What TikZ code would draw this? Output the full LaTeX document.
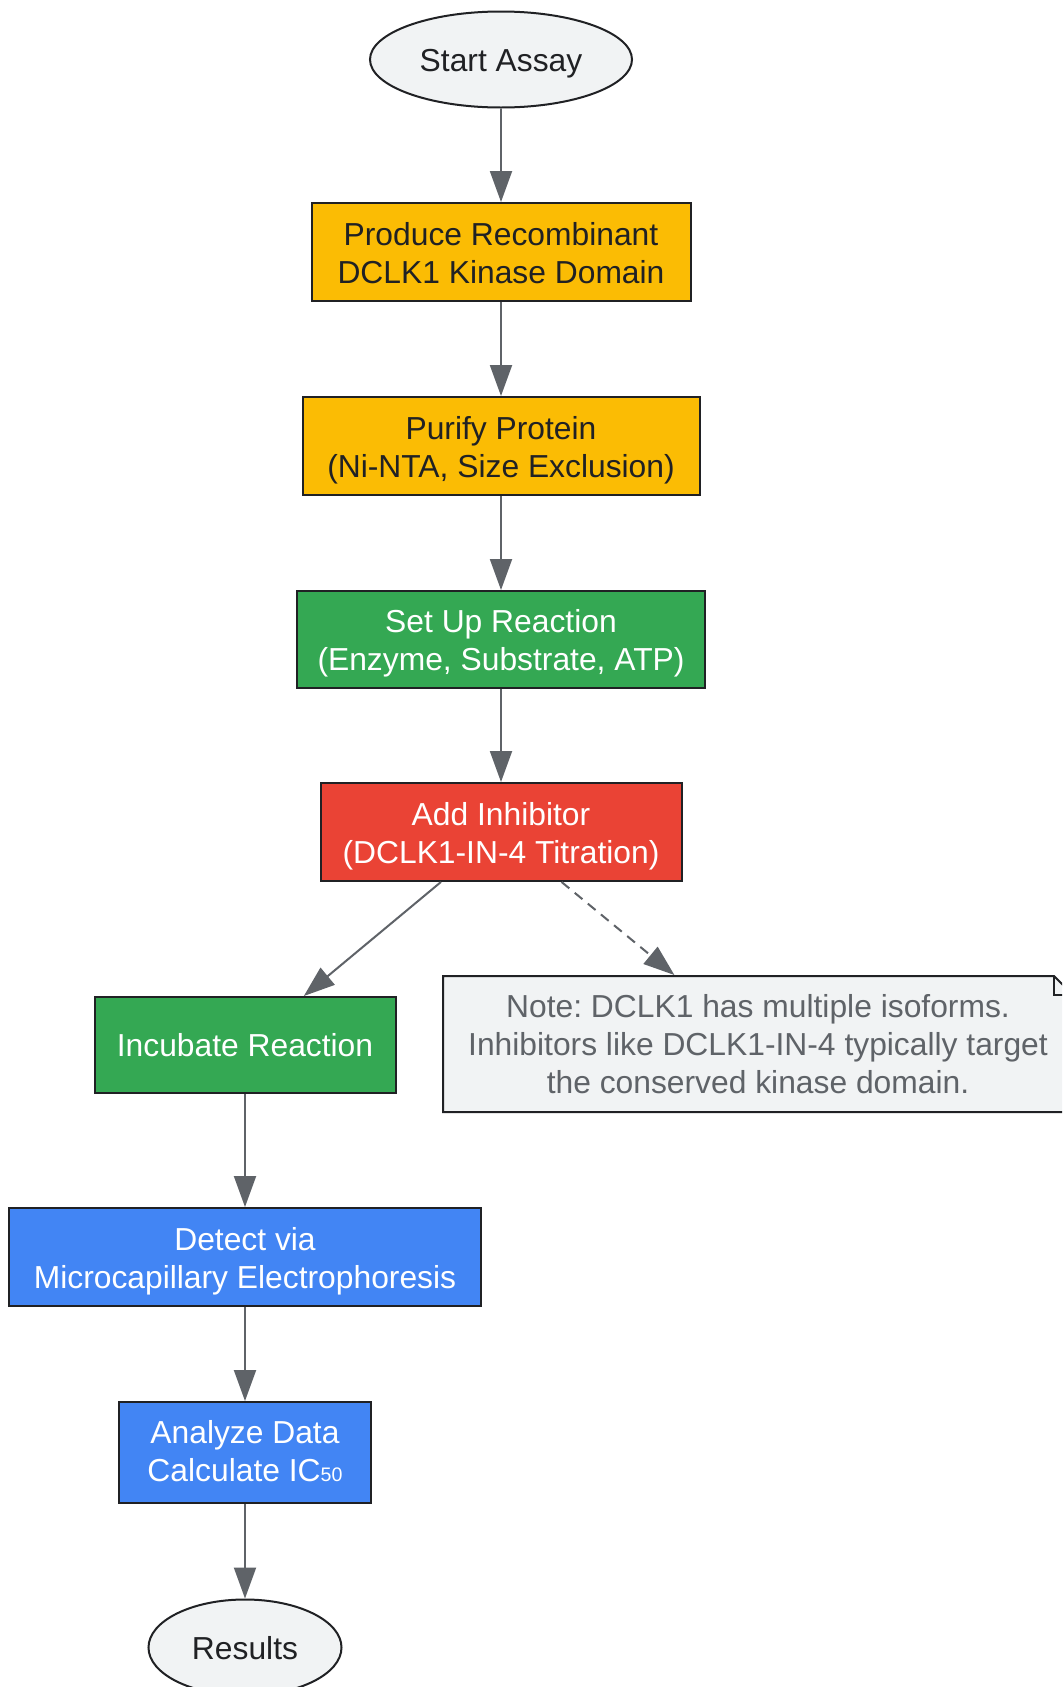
\documentclass[tikz,border=0pt]{standalone}
\usepackage{fontspec}
\setmainfont{Liberation Sans}
\frenchspacing
\usetikzlibrary{arrows.meta,shapes.geometric}
\definecolor{ink}{HTML}{202124}
\definecolor{edgec}{HTML}{5F6368}
\definecolor{ylw}{HTML}{FBBC04}
\definecolor{grn}{HTML}{34A853}
\definecolor{rd}{HTML}{EA4335}
\definecolor{blu}{HTML}{4285F4}
\definecolor{lite}{HTML}{F1F3F4}
\begin{document}
\begin{tikzpicture}[x=0.5pt,y=-0.5pt,
 base/.style={draw=ink, line width=1pt, inner sep=0pt, align=center, font=\fontsize{15.9}{18.85}\selectfont},
 box/.style={base, rectangle},
 oval/.style={base, ellipse, fill=lite, text=ink},
 oneline/.style={text height=11.6pt, text depth=0pt},
 twoline/.style={text height=31pt, text depth=0pt},
 flow/.style={draw=edgec, line width=1pt, -{Triangle[length=15.5pt,width=11pt]}},
]
\useasboundingbox (0,0) rectangle (1062,1687);
\clip (0,0) rectangle (1062,1687);
\fill[white] (0,0) rectangle (1062,1687);

% note outline
\filldraw[fill=lite, draw=ink, line width=1pt] (443,976) -- (1054,976) -- (1073,995) -- (1073,1112) -- (443,1112) -- cycle;
\draw[draw=ink, line width=1pt] (1054,976) -- (1054,995) -- (1073,995);

\node[oval, oneline, minimum width=131pt, minimum height=48pt] (start) at (501,59.5) {Start Assay};
\node[box, twoline, fill=ylw, text=ink, minimum width=189.5pt, minimum height=49pt] (prod) at (501,252) {Produce Recombinant\\DCLK1 Kinase Domain};
\node[box, twoline, fill=ylw, text=ink, minimum width=198.5pt, minimum height=49pt] (pur) at (501,446) {Purify Protein\\(Ni-NTA, Size Exclusion)};
\node[box, twoline, fill=grn, text=white, minimum width=204pt, minimum height=48.5pt] (setup) at (501,639.5) {Set Up Reaction\\(Enzyme, Substrate, ATP)};
\node[box, twoline, fill=rd, text=white, minimum width=180.5pt, minimum height=49pt] (add) at (501,832) {Add Inhibitor\\(DCLK1-IN-4 Titration)};
\node[box, oneline, fill=grn, text=white, minimum width=150.5pt, minimum height=48pt] (inc) at (245,1045) {Incubate Reaction};
\node[box, twoline, fill=blu, text=white, minimum width=236pt, minimum height=49pt] (det) at (245,1257) {Detect via\\Microcapillary Electrophoresis};
\node[box, twoline, text height=29pt, fill=blu, text=white, minimum width=126pt, minimum height=50.5pt] (ana) at (245,1452.5) {Analyze Data\\Calculate IC{\fontsize{9.8}{10}\selectfont 50}};
\node[oval, oneline, minimum width=96.5pt, minimum height=48pt] (res) at (245,1647.5) {Results};
\node[base, draw=none, text=edgec, minimum width=315pt, minimum height=68pt] (note) at (758,1044) {Note: DCLK1 has multiple isoforms.\\Inhibitors like DCLK1-IN-4 typically target\\the conserved kinase domain.};

\draw[flow] (start) -- (prod);
\draw[flow] (prod) -- (pur);
\draw[flow] (pur) -- (setup);
\draw[flow] (setup) -- (add);
\draw[flow] (add) -- (inc);
\draw[flow, dash pattern=on 5pt off 3.5pt] (add) -- (note);
\draw[flow] (inc) -- (det);
\draw[flow] (det) -- (ana);
\draw[flow] (ana) -- (res);
\end{tikzpicture}
\end{document}
